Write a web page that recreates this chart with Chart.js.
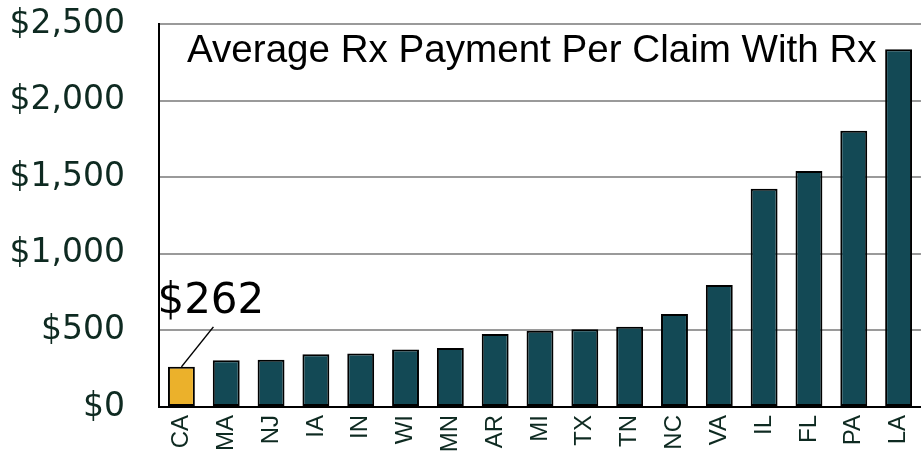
<!DOCTYPE html>
<html>
<head>
<meta charset="utf-8">
<script src="https://cdn.jsdelivr.net/npm/chart.js@4/dist/chart.umd.min.js"></script>
<style>
  html, body { margin: 0; padding: 0; background: #fff; }
  #wrap { width: 921px; height: 459px; }
</style>
</head>
<body>
<div id="wrap"><canvas id="rx-chart" width="921" height="459"></canvas></div>
<script>
// states, sorted by average Rx payment
let states = ['CA', 'MA', 'NJ', 'IA', 'IN', 'WI', 'MN', 'AR', 'MI', 'TX', 'TN', 'NC', 'VA', 'IL', 'FL', 'PA', 'LA'];
let payments = [262, 305, 308, 345, 350, 376, 385, 476, 498, 507, 524, 607, 796, 1425, 1540, 1803, 2335];
let yTicks = [0, 500, 1000, 1500, 2000, 2500];

const tealColor = '#134955';
const caColor = '#EBB12B';
let barColors = states.map(s => s === 'CA' ? caColor : tealColor);

const chartTitle = 'Average Rx Payment Per Claim With Rx';
const labelColor = '#0E2A21';

Chart.defaults.font.family = 'DejaVu Sans';

// title sits inside the plot area
const titlePlugin = {
  id: 'insideTitle',
  afterDraw(chart) {
    const { ctx, chartArea } = chart;
    ctx.save();
    ctx.font = '38.6px "Liberation Sans"';
    ctx.fillStyle = '#000';
    ctx.textBaseline = 'alphabetic';
    ctx.textAlign = 'left';
    ctx.fillText(chartTitle, chartArea.left + 28, chartArea.top + 38);
    ctx.restore();
  }
};

// callout for the CA bar
const calloutPlugin = {
  id: 'caCallout',
  afterDatasetsDraw(chart) {
    const { ctx } = chart;
    const bar = chart.getDatasetMeta(0).data[0];
    ctx.save();
    ctx.strokeStyle = '#000';
    ctx.lineWidth = 1.5;
    ctx.beginPath();
    ctx.moveTo(bar.x, bar.y);
    ctx.lineTo(bar.x + 32, bar.y - 40);
    ctx.stroke();
    ctx.font = '42px "DejaVu Sans"';
    ctx.fillStyle = '#000';
    ctx.textBaseline = 'alphabetic';
    ctx.fillText('$' + payments[0], bar.x - 24, bar.y - 54);
    ctx.restore();
  }
};

new Chart(document.getElementById('rx-chart'), {
  type: 'bar',
  data: {
    labels: states,
    datasets: [{
      data: payments,
      backgroundColor: barColors,
      borderColor: '#000',
      borderWidth: 2,
      borderSkipped: false,
      barPercentage: 0.6,
      categoryPercentage: 1.0
    }]
  },
  options: {
    responsive: false,
    animation: false,
    layout: { padding: { top: 24, right: 0, left: 0, bottom: 0 } },
    plugins: {
      legend: { display: false },
      tooltip: { enabled: false }
    },
    scales: {
      x: {
        grid: { display: false, drawTicks: false },
        border: { display: true, color: '#000', width: 2 },
        ticks: {
          color: labelColor,
          font: { family: 'Liberation Sans', size: 24 },
          minRotation: 90,
          maxRotation: 90,
          autoSkip: false,
          padding: 8
        },
        afterFit(scale) {
          scale.height = 52;
          scale.paddingLeft = 0;
          scale.paddingRight = 0;
        }
      },
      y: {
        min: 0,
        max: 2500,
        afterBuildTicks(scale) { scale.ticks = yTicks.map(v => ({ value: v })); },
        grid: {
          drawTicks: false,
          color: ctx => ctx.tick && ctx.tick.value === 0 ? 'rgba(0,0,0,0)' : '#9a9a9a',
          lineWidth: 2
        },
        border: { display: true, color: '#000', width: 2 },
        ticks: {
          color: labelColor,
          font: { size: 33 },
          padding: 34,
          callback: v => '$' + v.toLocaleString('en-US')
        },
        afterFit(scale) {
          scale.width = 159;
          scale.paddingTop = 0;
          scale.paddingBottom = 0;
        }
      }
    }
  },
  plugins: [titlePlugin, calloutPlugin]
});
</script>
</body>
</html>
